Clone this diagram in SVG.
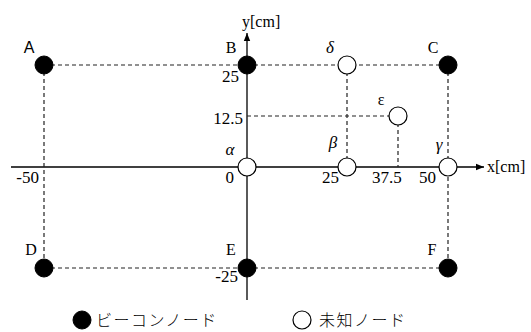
<svg xmlns="http://www.w3.org/2000/svg" width="531" height="332" viewBox="0 0 531 332">
<style>
.ax{stroke:#000;stroke-width:1.3;fill:none}
.dash{stroke:#222;stroke-width:1.2;stroke-dasharray:4 3;fill:none}
.bn{fill:#000;stroke:#000;stroke-width:1}
.un{fill:#fff;stroke:#000;stroke-width:1.2}
.t{font-family:'Liberation Serif','Times New Roman','DejaVu Serif',serif;font-size:17px;fill:#000}
.l{font-family:'Liberation Serif','Times New Roman','DejaVu Serif',serif;font-size:16px;fill:#000}
.g{font-family:'Liberation Serif','Times New Roman','DejaVu Serif',serif;font-size:17px;font-style:italic;fill:#000}
.s{font-family:'Liberation Sans',Arial,sans-serif;font-size:16px;fill:#000}
.jp{font-family:'Noto Sans CJK JP',sans-serif;font-size:16px;font-weight:300;fill:#000;letter-spacing:1.5px}
</style>
<defs>
<marker id="arr" viewBox="0 0 10 10" refX="10" refY="5" markerWidth="8" markerHeight="8" markerUnits="userSpaceOnUse" orient="auto">
<path d="M0,1 L10,5 L0,9 z" fill="#000"/>
</marker>
</defs>
<g id="connectors">
<line class="ax" x1="11" y1="167" x2="484" y2="167" marker-end="url(#arr)"/>
<line class="ax" x1="247" y1="300" x2="247" y2="33" marker-end="url(#arr)"/>
<line class="dash" x1="44" y1="65" x2="448" y2="65"/>
<line class="dash" x1="44" y1="268" x2="448" y2="268"/>
<line class="dash" x1="44" y1="65" x2="44" y2="268"/>
<line class="dash" x1="448" y1="65" x2="448" y2="268"/>
<line class="dash" x1="347" y1="65" x2="347" y2="167"/>
<line class="dash" x1="247" y1="116" x2="398" y2="116"/>
<line class="dash" x1="398" y1="116" x2="398" y2="167"/>
</g>
<g id="axis-labels">
<text class="l" x="242" y="27">y[cm]</text>
<text class="l" x="487" y="172">x[cm]</text>
<text class="t" x="239" y="82" text-anchor="end">25</text>
<text class="t" x="243" y="124" text-anchor="end">12.5</text>
<text class="t" x="234" y="183" text-anchor="end">0</text>
<text class="t" x="39" y="183" text-anchor="end">-50</text>
<text class="t" x="238" y="282" text-anchor="end">-25</text>
<text class="t" x="339" y="183" text-anchor="end">25</text>
<text class="t" x="372" y="183">37.5</text>
<text class="t" x="436" y="183" text-anchor="end">50</text>
</g>
<g id="A"><circle class="bn" cx="44" cy="65" r="9"/><text class="s" x="29" y="53" text-anchor="middle">A</text></g>
<g id="B"><circle class="bn" cx="247" cy="65" r="9"/><text class="l" x="231" y="53" text-anchor="middle">B</text></g>
<g id="C"><circle class="bn" cx="448" cy="65" r="9"/><text class="l" x="433" y="53" text-anchor="middle">C</text></g>
<g id="D"><circle class="bn" cx="44" cy="268" r="9"/><text class="l" x="31" y="255" text-anchor="middle">D</text></g>
<g id="E"><circle class="bn" cx="247" cy="268" r="9"/><text class="l" x="231" y="255" text-anchor="middle">E</text></g>
<g id="F"><circle class="bn" cx="448" cy="268" r="9"/><text class="l" x="432" y="255" text-anchor="middle">F</text></g>
<g id="alpha"><circle class="un" cx="247" cy="167" r="9"/><text class="g" x="230" y="155" text-anchor="middle">α</text></g>
<g id="beta"><circle class="un" cx="347" cy="167" r="9"/><text class="g" x="333" y="148" text-anchor="middle">β</text></g>
<g id="gamma"><circle class="un" cx="448" cy="167" r="9"/><text class="g" x="439" y="150" text-anchor="middle">γ</text></g>
<g id="delta"><circle class="un" cx="347" cy="65" r="9"/><text class="g" x="330" y="53" text-anchor="middle">δ</text></g>
<g id="epsilon"><circle class="un" cx="398" cy="116" r="9"/><text class="l" x="381" y="105" text-anchor="middle">ε</text></g>
<g id="legend">
<circle class="bn" cx="82" cy="320" r="9"/>
<text class="jp" x="96" y="326">ビーコンノード</text>
<circle class="un" cx="302" cy="320" r="9"/>
<text class="jp" x="319" y="326">未知ノード</text>
</g>
</svg>
